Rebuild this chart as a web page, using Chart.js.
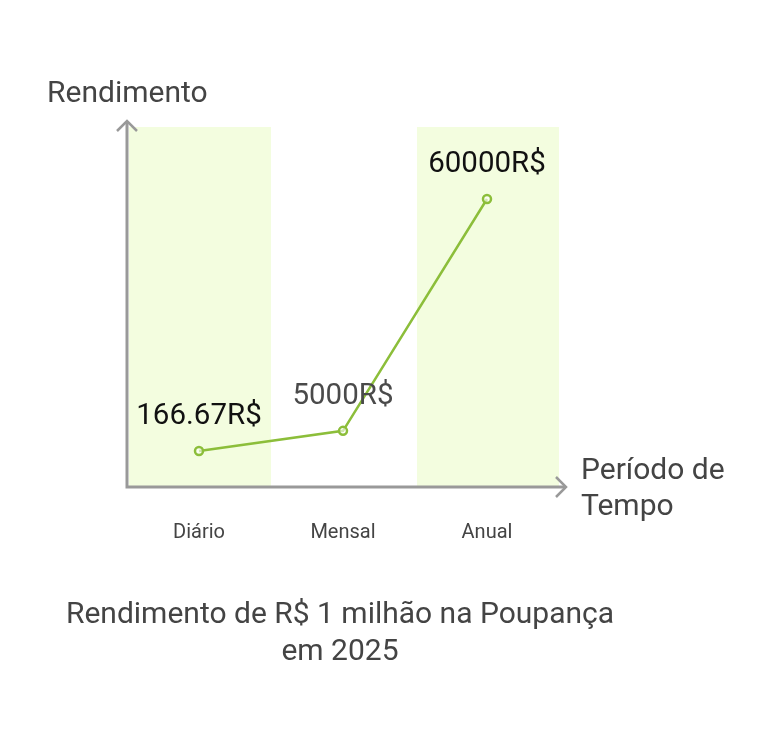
<!DOCTYPE html>
<html>
<head>
<meta charset="utf-8">
<script src="https://cdn.jsdelivr.net/npm/chart.js@4"></script>
<style>
  html, body { margin: 0; padding: 0; background: #fff; }
  #wrap { width: 777px; height: 741px; }
</style>
</head>
<body>
<div id="wrap"><canvas id="poupancaChart" width="777" height="741"></canvas></div>
<script>
// categorias e valores
const periodos = ['Diário', 'Mensal', 'Anual'];
const rendimentos = [166.67, 5000, 60000];            // valores dos rótulos (R$)
const alturaVisual = [10, 15.6, 80];                  // altura desenhada (% do eixo)
const corRotulo = ['#111111', '#4a4a4a', '#111111'];
const faixas = [0, 2];                                // categorias com fundo verde claro

const tituloGrafico = ['Rendimento de R$ 1 milhão na Poupança', 'em 2025'];
const tituloEixoY = 'Rendimento';
const tituloEixoX = ['Período de', 'Tempo'];

const fonte = 'Roboto, "Open Sans", sans-serif';
const corEixo = '#999999';
const corLinha = '#8cbe3a';

// fundo das faixas, eixos com setas e textos
const decoracao = {
    id: 'decoracao',
    beforeDatasetsDraw(chart) {
        const { ctx, chartArea, scales } = chart;
        const x = scales.x;
        const meia = (x.getPixelForValue(1) - x.getPixelForValue(0)) / 2;
        ctx.save();
        ctx.fillStyle = '#f3fddf';
        faixas.forEach(i => {
            const cx = x.getPixelForValue(i);
            ctx.fillRect(cx - meia + 2, chartArea.top, meia * 2 - 2, chartArea.bottom - chartArea.top);
        });

        // eixos
        ctx.strokeStyle = corEixo;
        ctx.lineWidth = 3;
        ctx.lineCap = 'butt';
        ctx.beginPath();
        ctx.moveTo(chartArea.left, chartArea.top - 6);
        ctx.lineTo(chartArea.left, chartArea.bottom);
        ctx.lineTo(chartArea.right + 7, chartArea.bottom);
        ctx.stroke();
        ctx.lineWidth = 2.5;
        ctx.beginPath();
        ctx.moveTo(chartArea.left - 10, chartArea.top + 4);
        ctx.lineTo(chartArea.left, chartArea.top - 6);
        ctx.lineTo(chartArea.left + 10, chartArea.top + 4);
        ctx.moveTo(chartArea.right - 3, chartArea.bottom - 10);
        ctx.lineTo(chartArea.right + 7, chartArea.bottom);
        ctx.lineTo(chartArea.right - 3, chartArea.bottom + 10);
        ctx.stroke();

        // rótulos das categorias
        ctx.fillStyle = '#444444';
        ctx.font = '20px ' + fonte;
        ctx.textAlign = 'center';
        ctx.textBaseline = 'middle';
        periodos.forEach((p, i) => ctx.fillText(p, x.getPixelForValue(i), chartArea.bottom + 46));

        // títulos dos eixos
        ctx.font = '30px ' + fonte;
        ctx.textAlign = 'left';
        ctx.fillText(tituloEixoY, 47, 94);
        tituloEixoX.forEach((t, i) => ctx.fillText(t, chartArea.right + 22, 471 + i * 36));

        // título do gráfico
        ctx.textAlign = 'center';
        tituloGrafico.forEach((t, i) => ctx.fillText(t, 340, 615 + i * 37));
        ctx.restore();
    },
    afterDatasetsDraw(chart) {
        const { ctx } = chart;
        const meta = chart.getDatasetMeta(0);
        ctx.save();
        ctx.font = '29.5px ' + fonte;
        ctx.textAlign = 'center';
        ctx.textBaseline = 'middle';
        meta.data.forEach((pt, i) => {
            ctx.fillStyle = corRotulo[i];
            ctx.fillText(rendimentos[i] + 'R$', pt.x, pt.y - 34);
        });
        ctx.restore();
    }
};

new Chart(document.getElementById('poupancaChart').getContext('2d'), {
    type: 'line',
    data: {
        labels: periodos,
        datasets: [{
            label: 'Rendimento',
            data: alturaVisual,
            borderColor: corLinha,
            borderWidth: 2.5,
            pointRadius: 4,
            pointBorderWidth: 2.5,
            pointBackgroundColor: 'rgba(255,255,255,0.6)',
            pointBorderColor: corLinha,
            tension: 0,
            clip: false
        }]
    },
    options: {
        responsive: false,
        animation: false,
        layout: { padding: { left: 127, right: 218, top: 127, bottom: 254 } },
        plugins: { legend: { display: false }, tooltip: { enabled: false }, title: { display: false } },
        scales: {
            x: { display: false, offset: true },
            y: { display: false, min: 0, max: 100 }
        }
    },
    plugins: [decoracao]
});
</script>
</body>
</html>
